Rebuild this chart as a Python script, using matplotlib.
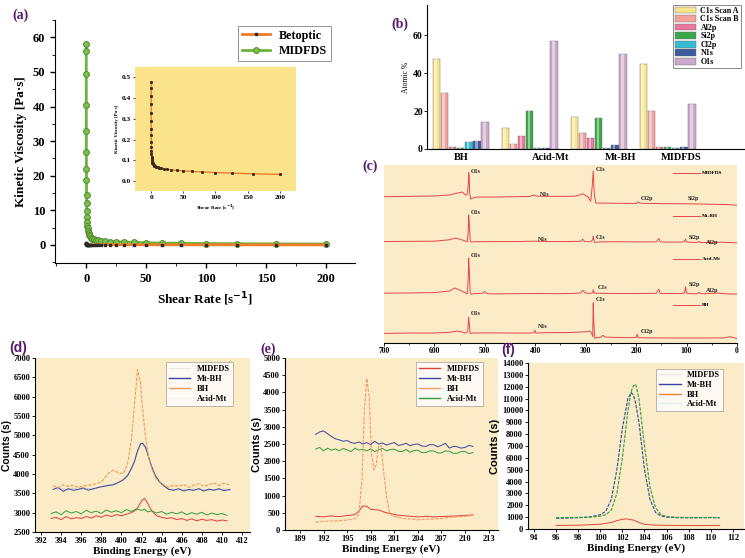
import numpy as np
import matplotlib.pyplot as plt
from matplotlib.lines import Line2D
from matplotlib.ticker import MultipleLocator

plt.rcParams['font.family'] = ['Liberation Serif', 'DejaVu Serif']
plt.rcParams['font.weight'] = 'bold'
plt.rcParams['axes.labelweight'] = 'bold'

# ---------------- data ----------------
# (a) viscosity vs shear rate
shear_rate = [0.05, 0.063, 0.079, 0.1, 0.126, 0.158, 0.2, 0.251, 0.316, 0.398,
              0.501, 0.631, 0.794, 1.0, 1.26, 1.58, 2.0, 2.51, 3.16, 3.98,
              5.01, 6.31, 7.94, 10, 12.6, 15.8, 20, 25.1, 31.6, 39.8,
              50.1, 63.1, 79.4, 100, 126, 158, 200]
visc_midfds = [58, 56, 49.5, 40.5, 33, 27, 22, 18.8, 14.5, 12.2,
               9.8, 8.0, 6.5, 5.6, 4.8, 4.0, 3.4, 2.9, 2.5, 2.1,
               1.8, 1.6, 1.45, 1.3, 1.2, 1.1, 1.0, 0.9, 0.85, 0.75,
               0.65, 0.55, 0.5, 0.42, 0.37, 0.32, 0.28]
visc_betoptic = [0.48, 0.45, 0.41, 0.37, 0.33, 0.29, 0.25, 0.22, 0.19, 0.165,
                 0.145, 0.13, 0.118, 0.108, 0.1, 0.094, 0.089, 0.085, 0.081, 0.078,
                 0.075, 0.072, 0.069, 0.066, 0.063, 0.061, 0.058, 0.056, 0.054, 0.051,
                 0.049, 0.047, 0.044, 0.041, 0.038, 0.035, 0.032]

# (b) atomic %
samples = ['BH', 'Acid-Mt', 'Mt-BH', 'MIDFDS']
elements = ['C1s Scan A', 'C1s Scan B', 'Al2p', 'Si2p', 'Cl2p', 'N1s', 'O1s']
atomic = {
    'C1s Scan A': [47.5, 11.2, 17.0, 44.8],
    'C1s Scan B': [29.5, 2.8, 8.7, 20.0],
    'Al2p': [0.8, 6.7, 5.8, 1.0],
    'Si2p': [0.3, 20.0, 16.5, 1.2],
    'Cl2p': [3.5, 0.3, 0.3, 0.3],
    'N1s': [4.2, 0.7, 2.0, 1.0],
    'O1s': [14.2, 57.2, 50.0, 23.8],
}
bar_colors = ['#F7E58C', '#F3A29B', '#E9779E', '#3DA64B', '#35BCD2', '#3C5A9C', '#CBA9CB']

# (c) survey spectra (binding energy, stacked intensity)
sv_midfds_be = [700, 650, 600, 570, 555, 545, 538, 535, 533, 532, 531, 530, 528, 526, 515, 480,
                440, 410, 403, 398, 380, 340, 320, 305, 295, 290, 287, 285, 283, 280, 270,
                240, 200, 196, 190, 150, 100, 60, 20, 0]
sv_midfds_i = [82.2, 82.4, 82.6, 83.2, 84.2, 84.8, 83.0, 83.5, 88, 95.7, 93, 84, 80.8, 81.3, 82.0, 82.0,
               82.2, 82.3, 83.2, 82.5, 82.4, 82.4, 82.5, 83.8, 81.8, 79.6, 88, 96.6, 84, 78.6, 78.6,
               78.5, 78.4, 79.2, 78.5, 78.3, 78.2, 78.0, 77.8, 77.4]
sv_mtbh_be = [700, 650, 600, 570, 560, 550, 540, 535, 533, 532, 531, 529, 527, 520, 480, 440,
              400, 380, 340, 310, 306, 302, 290, 286, 285, 284, 282, 270, 240, 200, 160, 155,
              152, 140, 110, 104, 102, 100, 96, 80, 75, 72, 60, 30, 0]
sv_mtbh_i = [57, 57.1, 57.2, 58, 58.9, 58.4, 57.4, 56.8, 62, 71.9, 68, 57.5, 56.7, 56.9, 57, 57,
             57.2, 57, 57, 57.1, 58.3, 57.0, 56.9, 58, 59.9, 58.2, 56.5, 56.8, 56.9, 56.8, 56.8, 58.7,
             56.8, 56.7, 56.7, 57, 58.4, 56.8, 56.6, 56.5, 57, 56.4, 56.5, 56.6, 56.3]
sv_acid_be = [700, 650, 600, 570, 560, 550, 540, 535, 533, 532, 531, 529, 527, 520, 505, 500,
              495, 480, 440, 400, 360, 320, 310, 306, 300, 290, 286, 285, 283, 270, 240, 200,
              160, 155, 152, 140, 110, 104, 102, 100, 96, 80, 75, 72, 60, 40, 20, 0]
sv_acid_i = [28, 28.1, 28.3, 29.2, 30.9, 29.8, 28.4, 27.6, 35, 47.7, 42, 28.2, 27.4, 27.8, 27.9, 28.8,
             27.7, 27.6, 27.7, 27.8, 27.7, 27.9, 28.1, 29.6, 28.0, 27.9, 28.3, 30.0, 28.0, 27.9, 27.8, 27.8,
             27.9, 30.3, 27.9, 27.8, 27.8, 28.2, 31.6, 28.0, 27.8, 27.6, 28.4, 27.7, 27.7, 28.1, 27.6, 27.5]
sv_bh_be = [700, 650, 600, 570, 555, 545, 538, 534, 533, 532, 531, 529, 526, 500, 450, 410,
            403, 401, 399, 380, 330, 300, 292, 288, 286, 285, 284, 282, 278, 270, 266, 262,
            250, 210, 200, 198, 196, 180, 120, 60, 25, 15, 8, 0]
sv_bh_i = [5.4, 5.6, 5.6, 6.0, 6.7, 6.2, 5.5, 6.5, 10, 14.4, 11, 5.3, 5.6, 5.7, 5.6, 5.6,
           5.8, 7.2, 5.6, 5.8, 5.9, 6.3, 6.8, 5.2, 3.6, 22.6, 12, 2.6, 3.0, 3.2, 4.3, 3.4,
           3.2, 3.0, 3.1, 4.9, 3.0, 2.9, 2.8, 2.8, 2.9, 3.5, 3.2, 2.5]

# (d) N1s region
d_be = [393.2, 393.7, 394.2, 394.7, 395.2, 395.7, 396.2, 396.7, 397.2, 397.7, 398.2, 398.7,
        399.2, 399.7, 400.2, 400.6, 401.0, 401.3, 401.6, 401.9, 402.1, 402.4, 402.7, 403.0,
        403.4, 403.8, 404.2, 404.7, 405.2, 405.7, 406.2, 406.7, 407.2, 407.7, 408.2, 408.7,
        409.2, 409.7, 410.2, 410.8]
d_bh = [3700, 3650, 3720, 3680, 3710, 3650, 3690, 3700, 3730, 3760, 3850, 4020,
        4100, 4030, 4010, 4250, 4900, 5800, 6700, 6350, 5700, 4950, 4450, 4150,
        3900, 3780, 3730, 3660, 3710, 3680, 3730, 3650, 3710, 3750, 3680, 3720,
        3770, 3700, 3760, 3720]
d_mtbh = [3600, 3650, 3550, 3620, 3580, 3600, 3640, 3580, 3620, 3650, 3680, 3700,
          3720, 3780, 3850, 3950, 4150, 4330, 4600, 4780, 4800, 4700, 4450, 4200,
          3950, 3800, 3700, 3600, 3580, 3620, 3560, 3600, 3580, 3620, 3560, 3610,
          3580, 3620, 3570, 3600]
d_mtbh_fit = [3640, 3600, 3620, 3580, 3640, 3610, 3590, 3630, 3600, 3660, 3690, 3720,
              3740, 3790, 3870, 3980, 4120, 4300, 4560, 4740, 4760, 4650, 4420, 4150,
              3920, 3780, 3680, 3620, 3600, 3580, 3610, 3570, 3600, 3590, 3600, 3570,
              3600, 3590, 3610, 3580]
d_be2 = [393.0, 393.5, 394.0, 394.5, 395.0, 395.5, 396.0, 396.5, 397.0, 397.5, 398.0, 398.5,
         399.0, 399.5, 400.0, 400.5, 401.0, 401.5, 402.0, 402.3, 402.6, 403.0, 403.5, 404.0,
         404.5, 405.0, 405.5, 406.0, 406.5, 407.0, 407.5, 408.0, 408.5, 409.0, 409.5, 410.0, 410.5]
d_acid = [2980, 3020, 2950, 3050, 2990, 3030, 2970, 3060, 3000, 3040, 2980, 3070,
          3010, 3050, 3000, 3080, 3030, 3100, 3060, 3090, 3020, 3050, 2990, 3030,
          2960, 3010, 2970, 3020, 2950, 3000, 2960, 3010, 2940, 2990, 2950, 2980, 2930]
d_midfds = [2850, 2880, 2820, 2900, 2840, 2870, 2850, 2900, 2860, 2920, 2880, 2940,
            2900, 2950, 2920, 2960, 3000, 3080, 3300, 3370, 3250, 3050, 2920, 2880,
            2850, 2870, 2820, 2850, 2800, 2840, 2790, 2830, 2800, 2820, 2780, 2810, 2790]

# (e) Cl2p region
e_be = [191.0, 191.5, 192.0, 192.5, 193.0, 193.5, 194.0, 194.5, 195.0, 195.5, 196.0, 196.5,
        197.0, 197.5, 198.0, 198.5, 199.0, 199.5, 200.0, 200.5, 201.0, 201.5, 202.0, 202.5,
        203.0, 203.5, 204.0, 204.5, 205.0, 205.5, 206.0, 206.5, 207.0, 207.5, 208.0, 208.5,
        209.0, 209.5, 210.0, 210.5, 211.0]
e_mtbh = [2780, 2850, 2880, 2800, 2720, 2650, 2620, 2580, 2600, 2540, 2520, 2560,
          2500, 2540, 2480, 2580, 2500, 2530, 2470, 2510, 2540, 2460, 2480, 2520,
          2450, 2490, 2500, 2440, 2430, 2480, 2480, 2420, 2460, 2520, 2380, 2430,
          2420, 2380, 2400, 2460, 2430]
e_acid = [2350, 2400, 2300, 2380, 2320, 2360, 2300, 2370, 2330, 2280, 2380, 2320,
          2350, 2300, 2360, 2280, 2330, 2370, 2300, 2340, 2350, 2290, 2280, 2340,
          2260, 2310, 2320, 2250, 2250, 2300, 2300, 2240, 2240, 2300, 2290, 2230,
          2230, 2280, 2280, 2220, 2250]
e_midfds = [400, 390, 380, 400, 410, 395, 390, 405, 420, 430, 450, 550,
            700, 690, 600, 590, 580, 540, 500, 480, 450, 430, 420, 410,
            400, 390, 380, 385, 400, 390, 380, 385, 390, 395, 400, 405,
            410, 415, 420, 430, 440]
e_be_bh = [191, 192, 193, 194, 195, 196, 196.5, 196.9, 197.2, 197.5, 197.8, 198.1, 198.4,
           198.7, 199.0, 199.3, 199.6, 200.0, 200.4, 200.8, 201.5, 202, 203, 204, 205,
           206, 207, 208, 209, 210, 211]
e_bh = [230, 250, 260, 270, 290, 330, 450, 1500, 3500, 4400, 3900, 2200, 1750,
        1900, 2450, 2450, 1800, 1000, 500, 400, 370, 340, 320, 300, 310,
        320, 330, 360, 380, 400, 420]

# (f) Si2p region
f_be = [96, 97, 98, 99, 100, 100.5, 101, 101.5, 102, 102.5, 102.8, 103.0, 103.2, 103.5,
        104, 104.5, 105, 105.5, 106, 107, 108, 109, 110, 110.8]
f_acid = [950, 960, 980, 1000, 1080, 1200, 1600, 3000, 6000, 10000, 11600, 12100, 12200, 11000,
          7000, 3500, 1800, 1200, 1050, 980, 970, 960, 970, 950]
f_mtbh = [900, 920, 950, 1000, 1200, 1500, 2500, 5000, 8500, 11000, 11500, 11300, 10600, 9000,
          5000, 2500, 1400, 1100, 1000, 950, 940, 950, 960, 940]
f_be_bh = [96, 98, 100, 101, 101.5, 102, 102.4, 103, 103.5, 104, 105, 107, 109, 110.8]
f_bh = [300, 320, 400, 550, 700, 820, 850, 750, 550, 400, 320, 300, 290, 300]

yellow = '#FBEBC6'
purple = '#5A1A6E'

fig = plt.figure(figsize=(7.45, 5.58), dpi=100)

# ---------------- (a) ----------------
ax = fig.add_axes([0.0738, 0.5287, 0.4027, 0.4355])
ax.plot(shear_rate, visc_midfds, color='#6CB43F', lw=2.0, marker='o', ms=4.2,
        mfc='#7DC04E', mec='#4E8A2C', mew=0.7, label='MIDFDS', zorder=2)
ax.plot(shear_rate, visc_betoptic, color='#F07B28', lw=2.0, marker='s', ms=1.8,
        mfc='#2a2a2a', mec='#2a2a2a', label='Betoptic', zorder=3)
ax.set_xlim(-26, 224)
ax.set_ylim(-5.2, 65)
ax.set_xticks([0, 50, 100, 150, 200])
ax.set_yticks([0, 10, 20, 30, 40, 50, 60])
ax.yaxis.set_minor_locator(MultipleLocator(5))
ax.xaxis.set_minor_locator(MultipleLocator(25))
ax.tick_params(labelsize=9, width=1.0)
ax.spines['top'].set_visible(False)
ax.spines['right'].set_visible(False)
ax.set_xlabel('Shear Rate [s$^{\\mathbf{-1}}$]', fontsize=9.5)
ax.set_ylabel('Kinetic Viscosity [Pa·s]', fontsize=9.5)
h, l = ax.get_legend_handles_labels()
leg = ax.legend(h[::-1], l[::-1], loc='upper right', bbox_to_anchor=(0.94, 1.0), fontsize=8.7,
                fancybox=False, edgecolor='#777777', handlelength=2.3, borderpad=0.3,
                labelspacing=0.3)
leg.get_frame().set_linewidth(0.7)

ins = fig.add_axes([0.1812, 0.6577, 0.2161, 0.2222])
ins.set_facecolor('#FBE38B')
ins.plot(shear_rate, visc_betoptic, color='#F07020', lw=0.9, marker='s', ms=1.1,
         mfc='#3a2a1a', mec='#3a2a1a')
ins.set_xlim(-25, 225)
ins.set_ylim(-0.048, 0.55)
ins.set_xticks([0, 50, 100, 150, 200])
ins.set_yticks([0.0, 0.1, 0.2, 0.3, 0.4, 0.5])
ins.tick_params(labelsize=5.3, length=1.5, width=0.5, pad=1.5)
for s in ins.spines.values():
    s.set_visible(False)
ins.set_xlabel('Shear Rate [s$^{\\mathbf{-1}}$]', fontsize=3.8, labelpad=2)
ins.set_ylabel('Kinetic Viscosity [Pa·s]', fontsize=3.5, labelpad=2)

# ---------------- (b) ----------------
bx = fig.add_axes([0.5732, 0.733, 0.4268, 0.258])
x = np.arange(len(samples))
step = 0.117
for k, el in enumerate(elements):
    xs = x + (k - 3) * step
    bx.bar(xs, atomic[el], width=0.105, color=bar_colors[k], edgecolor='#6a6a6a',
           linewidth=0.3, label=el)
    bx.bar(xs - 0.012, atomic[el], width=0.04, color='white', alpha=0.45, linewidth=0)
bx.set_xlim(-0.49, 4.12)
bx.set_ylim(0, 76)
bx.set_yticks([0, 20, 40, 60])
bx.set_xticks([0, 1.3, 2.31, 3.2])
bx.set_xticklabels(samples)
bx.tick_params(axis='x', length=0, labelsize=7.5, pad=3)
bx.tick_params(axis='y', labelsize=7, length=2, width=0.6, pad=1)
bx.spines['top'].set_visible(False)
bx.spines['right'].set_visible(False)
bx.set_ylabel('Atomic %', fontsize=5.5, labelpad=2, fontweight='normal')
handles = [plt.Rectangle((0, 0), 1, 1, fc=c, ec='#6a6a6a', lw=0.3) for c in bar_colors]
lb = bx.legend(handles, elements, loc='upper right', bbox_to_anchor=(1.0, 1.03),
               fontsize=5.8, fancybox=False, edgecolor='#555555', handlelength=2.6,
               handleheight=0.9, labelspacing=0.05, borderpad=0.25, handletextpad=0.6)
lb.get_frame().set_linewidth(0.6)

# ---------------- (c) ----------------
cx = fig.add_axes([0.5154, 0.3853, 0.4738, 0.319])
cx.set_facecolor(yellow)
sv_col = '#E8444A'
cx.plot(sv_midfds_be, sv_midfds_i, color=sv_col, lw=0.7)
cx.plot(sv_mtbh_be, sv_mtbh_i, color=sv_col, lw=0.7)
cx.plot(sv_acid_be, sv_acid_i, color=sv_col, lw=0.7)
cx.plot(sv_bh_be, sv_bh_i, color=sv_col, lw=0.7)
cx.set_xlim(700, 0)
cx.set_ylim(0, 100)
cx.set_yticks([])
cx.set_xticks([700, 600, 500, 400, 300, 200, 100, 0])
cx.xaxis.set_minor_locator(MultipleLocator(50))
cx.tick_params(axis='x', labelsize=5.5, length=2, width=0.6, pad=1)
cx.tick_params(axis='x', which='minor', length=1.2, width=0.5)
for side in ['top', 'right', 'left']:
    cx.spines[side].set_visible(False)
peak_labels = [
    (527, 96.6, 'O1s'), (390, 83.7, 'N1s'), (280, 97.7, 'C1s'), (191, 80.9, 'Cl2p'), (97, 80.9, 'Si2p'),
    (527, 73.2, 'O1s'), (394, 57.9, 'N1s'), (280, 59.5, 'C1s'), (96, 59.0, 'Si2p'), (62, 56.7, 'Al2p'),
    (527, 48.9, 'O1s'), (277, 30.9, 'C1s'), (96, 32.6, 'Si2p'), (62, 29.4, 'Al2p'),
    (527, 16.3, 'O1s'), (394, 9.5, 'N1s'), (280, 24.2, 'C1s'), (191, 6.4, 'Cl2p'),
]
for be, yy, t in peak_labels:
    cx.text(be, yy, t, fontsize=4.3, ha='left', va='center', color='#222222')
for yy, t in [(95.5, 'MIDFDS'), (71.5, 'Mt-BH'), (47, 'Acid-Mt'), (21.3, 'BH')]:
    cx.plot([0.82, 0.895], [yy, yy], color=sv_col, lw=0.7,
            transform=cx.get_yaxis_transform())
    cx.text(0.9, yy, t, fontsize=3.8, va='center', transform=cx.get_yaxis_transform())

# ---------------- (d) ----------------
dx = fig.add_axes([0.047, 0.0466, 0.2886, 0.3118])
dx.set_facecolor(yellow)
dx.plot(d_be2, d_midfds, color='#E23A3A', lw=0.7)
dx.plot(d_be2, d_acid, color='#2E9E3E', lw=0.7)
dx.plot(d_be, d_mtbh_fit, color='#C9C4CC', lw=0.6)
dx.plot(d_be, d_mtbh, color='#34479A', lw=0.7)
dx.plot(d_be, d_bh, color='#F39A55', lw=0.8, dashes=(3, 1.2))
dx.set_xlim(391.4, 412.8)
dx.set_ylim(2500, 7000)
dx.set_xticks(np.arange(392, 413, 2))
dx.set_yticks(np.arange(2500, 7001, 500))
dx.tick_params(labelsize=6, length=2, width=0.6, pad=1.5)
dx.spines['top'].set_visible(False)
dx.spines['right'].set_visible(False)
dx.set_xlabel('Binding Energy (eV)', fontsize=8, labelpad=1)
dx.set_ylabel('Counts (s)', fontsize=7.5, family=['Liberation Sans'], labelpad=1)
hd = [Line2D([], [], color='#F1E6E6', lw=1), Line2D([], [], color='#34479A', lw=1),
      Line2D([], [], color='#F39A55', lw=1), Line2D([], [], color='#F5F0F0', lw=1)]
lg = dx.legend(hd, ['MIDFDS', 'Mt-BH', 'BH', 'Acid-Mt'], loc='upper right',
               bbox_to_anchor=(0.94, 1.0), fontsize=6, fancybox=False, edgecolor='#888888',
               labelspacing=0.25, borderpad=0.35, handlelength=2.6)
lg.get_frame().set_linewidth(0.5)

# ---------------- (e) ----------------
ex = fig.add_axes([0.3826, 0.0502, 0.2859, 0.3082])
ex.set_facecolor(yellow)
ex.plot(e_be, e_mtbh, color='#34479A', lw=0.7)
ex.plot(e_be, e_acid, color='#2E9E3E', lw=0.7)
ex.plot(e_be, e_midfds, color='#E23A3A', lw=0.7)
ex.plot(e_be_bh, e_bh, color='#F39A65', lw=0.8, dashes=(3, 1.2))
ex.set_xlim(187.1, 214.2)
ex.set_ylim(0, 5000)
ex.set_xticks(np.arange(189, 214, 3))
ex.set_yticks(np.arange(0, 5001, 500))
ex.tick_params(labelsize=6, length=2, width=0.6, pad=1.5)
ex.spines['top'].set_visible(False)
ex.spines['right'].set_visible(False)
ex.set_xlabel('Binding Energy (eV)', fontsize=8, labelpad=1)
ex.set_ylabel('Counts (s)', fontsize=8, family=['Liberation Sans'], labelpad=1)
he = [Line2D([], [], color='#E23A3A', lw=1), Line2D([], [], color='#34479A', lw=1),
      Line2D([], [], color='#F39A65', lw=1), Line2D([], [], color='#2E9E3E', lw=1)]
le = ex.legend(he, ['MIDFDS', 'Mt-BH', 'BH', 'Acid-Mt'], loc='upper right',
               bbox_to_anchor=(0.948, 1.0), fontsize=6, fancybox=False, edgecolor='#888888',
               labelspacing=0.25, borderpad=0.35, handlelength=2.6)
le.get_frame().set_linewidth(0.5)

# ---------------- (f) ----------------
fx = fig.add_axes([0.7087, 0.052, 0.2899, 0.2975])
fx.set_facecolor(yellow)
fx.plot(f_be_bh, f_bh, color='#E4453A', lw=0.7)
fx.plot(f_be, f_mtbh, color='#34479A', lw=0.8, dashes=(3, 1.2))
fx.plot(f_be, f_acid, color='#2E9E3E', lw=0.8, dashes=(3, 1.2))
fx.set_xlim(93.46, 113)
fx.set_ylim(0, 14000)
fx.set_xticks(np.arange(94, 113, 2))
fx.set_yticks(np.arange(0, 14001, 1000))
fx.tick_params(labelsize=6, length=2, width=0.6, pad=1.5)
fx.spines['top'].set_visible(False)
fx.spines['right'].set_visible(False)
fx.set_xlabel('Binding Energy (eV)', fontsize=8, labelpad=1)
fx.set_ylabel('Counts (s)', fontsize=8, family=['Liberation Sans'], labelpad=1)
hf = [Line2D([], [], color='#EEE4E4', lw=1), Line2D([], [], color='#34479A', lw=1),
      Line2D([], [], color='#F08040', lw=1), Line2D([], [], color='#D8EEF0', lw=1)]
lf = fx.legend(hf, ['MIDFDS', 'Mt-BH', 'BH', 'Acid-Mt'], loc='upper right',
               bbox_to_anchor=(0.921, 0.99), fontsize=6, fancybox=False, edgecolor='#888888',
               labelspacing=0.2, borderpad=0.3, handlelength=2.6)
lf.get_frame().set_linewidth(0.5)

# panel labels
fig.text(0.016, 0.984, '(a)', fontsize=10, color=purple, va='top')
fig.text(0.526, 0.968, '(b)', fontsize=10, color=purple, va='top')
fig.text(0.486, 0.714, '(c)', fontsize=10, color=purple, va='top')
fig.text(0.012, 0.388, '(d)', fontsize=10, color=purple, va='top', family=['Liberation Sans'])
fig.text(0.349, 0.386, '(e)', fontsize=10, color=purple, va='top')
fig.text(0.673, 0.386, '(f)', fontsize=10, color=purple, va='top', family=['Liberation Sans'])

fig.savefig('out.png', dpi=100)
